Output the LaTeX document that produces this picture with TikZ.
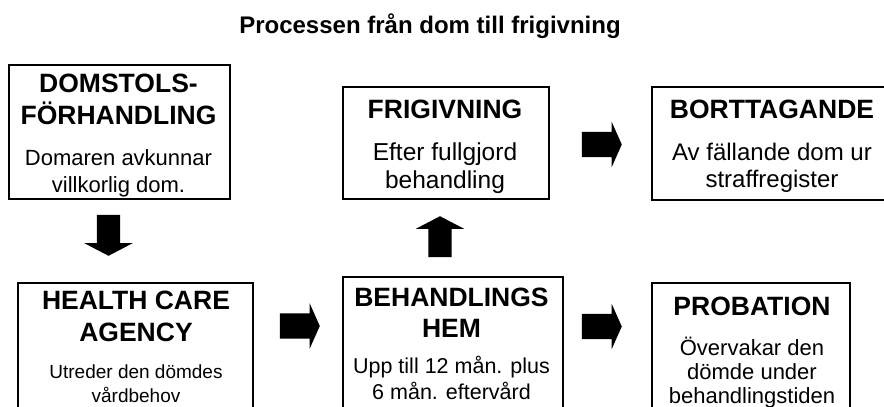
\documentclass[tikz,border=0pt]{standalone}
\usepackage{fontspec}
\setmainfont{Liberation Sans}
\usetikzlibrary{positioning,shapes.arrows}

\begin{document}
\begin{tikzpicture}[x=1pt,y=-1pt,
  box/.style={rectangle,draw=black,line width=1.6pt,anchor=north west,inner sep=0pt},
  head/.style={align=center,inner sep=0pt,anchor=base,font=\fontsize{26.5}{32}\selectfont\bfseries},
  body/.style={align=center,inner sep=0pt,anchor=base,font=\fontsize{22}{27}\selectfont},
  blockarrow/.style={single arrow,fill=black,draw=none,inner sep=0pt,anchor=tip,single arrow head indent=0pt},
  downarrow/.style={blockarrow,minimum height=41pt,text height=11.5pt,text depth=11.5pt,
    single arrow head extend=12.5pt,single arrow tip angle=125},
  rightarrow/.style={blockarrow,minimum height=40pt,text height=12.5pt,text depth=12.5pt,
    single arrow head extend=10pt,single arrow tip angle=132}]
\useasboundingbox (0,0) rectangle (884,407);
\clip (0,0) rectangle (884,407);
\node at (430,33)[anchor=base,font=\fontsize{24}{28}\selectfont\bfseries](title){Processen från dom till frigivning};
% upper row
\node at (8,64)[box,minimum width=221pt,minimum height=134pt](dom){};
\node at (118.5,124)[head](domhead){DOMSTOLS-\\FÖRHANDLING};
\node at (118.5,192)[body](domtext){Domaren avkunnar\\villkorlig dom.};
\node at (342,86)[box,minimum width=206pt,minimum height=112pt](frig){};
\node at (445,118)[head](frighead){FRIGIVNING};
\node at (445,188)[body,font=\fontsize{24.5}{28}\selectfont](frigtext){Efter fullgjord\\behandling};
\node at (651,86)[box,minimum width=242pt,minimum height=113pt](bort){};
\node at (772,118)[head](borthead){BORTTAGANDE};
\node at (772,187)[body,font=\fontsize{24}{27}\selectfont](borttext){Av fällande dom ur\\straffregister};
% lower row
\node at (17,282)[box,minimum width=235pt,minimum height=140pt](hca){};
\node at (136,341)[head](hcahead){HEALTH CARE\\AGENCY};
\node at (136,402)[body,font=\fontsize{19}{24}\selectfont](hcatext){Utreder den dömdes\\vårdbehov};
\node at (342,276)[box,minimum width=220pt,minimum height=140pt](beh){};
\node at (451.5,337)[head,font=\fontsize{26.5}{31}\selectfont\bfseries](behhead){BEHANDLINGS\\HEM};
\node at (451.5,399)[body,font=\fontsize{21.5}{26}\selectfont](behtext){Upp till 12 mån. plus\\6 mån. eftervård};
\node at (651,282)[box,minimum width=198pt,minimum height=140pt](prob){};
\node at (752,315)[head](probhead){PROBATION};
\node at (752,403)[body,font=\fontsize{22}{24}\selectfont](probtext){Övervakar den\\dömde under\\behandlingstiden};
% arrows
\node at (108.5,256)[downarrow,rotate=-90](a1){};
\node at (440,216)[downarrow,rotate=90](a2){};
\node at (622,144.5)[rightarrow](a3){};
\node at (320,326)[rightarrow](a4){};
\node at (622,326.5)[rightarrow](a5){};
\end{tikzpicture}
\end{document}
